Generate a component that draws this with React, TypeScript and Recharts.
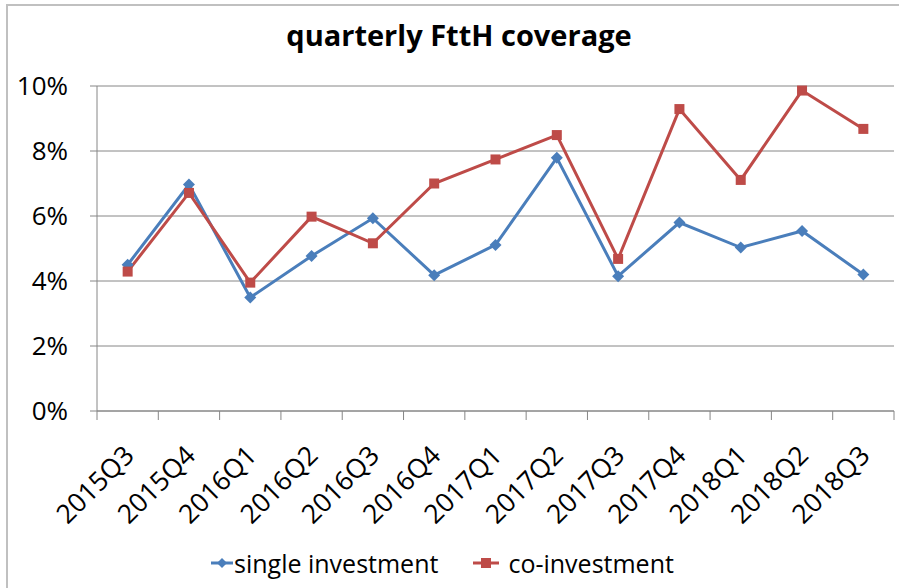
import React from "react";
import {
  LineChart,
  Line,
  XAxis,
  YAxis,
  CartesianGrid,
  Legend,
} from "recharts";

const quarters = [
  "2015Q3",
  "2015Q4",
  "2016Q1",
  "2016Q2",
  "2016Q3",
  "2016Q4",
  "2017Q1",
  "2017Q2",
  "2017Q3",
  "2017Q4",
  "2018Q1",
  "2018Q2",
  "2018Q3",
];

const singleInvestment = [4.5, 6.97, 3.49, 4.77, 5.93, 4.18, 5.11, 7.79, 4.15, 5.8, 5.03, 5.54, 4.2];
const coInvestment = [4.29, 6.71, 3.95, 5.98, 5.16, 7.0, 7.74, 8.49, 4.68, 9.29, 7.11, 9.86, 8.68];

const yTicks = [0, 2, 4, 6, 8, 10];

const BLUE = "#4a7ebb";
const RED = "#be4b48";
const GRID = "#868686";
const FONT = "'Open Sans', sans-serif";

const data = quarters.map((q, i) => ({
  idx: i,
  quarter: q,
  single: singleInvestment[i],
  co: coInvestment[i],
}));

// ticks at category edges (tick marks) and centres (labels)
const xTicks: number[] = [];
for (let i = 0; i <= quarters.length * 2; i++) xTicks.push(i / 2 - 0.5);

function XTick(props: any) {
  const { x, y, payload } = props;
  const v = payload.value;
  if (!Number.isInteger(v)) {
    return <line x1={x} y1={y} x2={x} y2={y + 9} stroke={GRID} strokeWidth={1} />;
  }
  return (
    <g transform={`translate(${x + 8},${y + 46}) rotate(-45)`}>
      <text textAnchor="end" fontSize={26.5} fontFamily={FONT} fill="#000">
        {quarters[v]}
      </text>
    </g>
  );
}

function DiamondDot(props: any) {
  const { cx, cy } = props;
  if (cx == null || cy == null) return null;
  const r = 6;
  return (
    <polygon
      points={`${cx},${cy - r} ${cx + r},${cy} ${cx},${cy + r} ${cx - r},${cy}`}
      fill={BLUE}
    />
  );
}

function SquareDot(props: any) {
  const { cx, cy } = props;
  if (cx == null || cy == null) return null;
  return <rect x={cx - 5} y={cy - 5} width={10} height={10} fill={RED} />;
}

function LegendContent() {
  return (
    <div
      style={{
        display: "flex",
        alignItems: "center",
        height: 50,
        paddingLeft: 211,
        fontFamily: FONT,
        fontSize: 25,
        color: "#000",
      }}
    >
      <svg width={22} height={14} style={{ marginRight: 1 }}>
        <line x1={0} y1={7} x2={22} y2={7} stroke={BLUE} strokeWidth={3} />
        <polygon points="11,2 16,7 11,12 6,7" fill={BLUE} />
      </svg>
      <span>single investment</span>
      <svg width={26} height={14} style={{ marginLeft: 35, marginRight: 9 }}>
        <line x1={0} y1={7} x2={26} y2={7} stroke={RED} strokeWidth={3} />
        <rect x={8} y={2} width={10} height={10} fill={RED} />
      </svg>
      <span>co-investment</span>
    </div>
  );
}

export default function App() {
  return (
    <div
      style={{
        position: "absolute",
        left: 0,
        top: 0,
        width: 899,
        height: 588,
        overflow: "hidden",
        background: "#fff",
      }}
    >
      <div
        style={{
          position: "absolute",
          left: 6,
          top: 4,
          width: 893,
          height: 584,
          boxSizing: "border-box",
          borderTop: "2px solid #c0c0c0",
          borderLeft: "2px solid #c0c0c0",
        }}
      />
      <div
        style={{
          position: "absolute",
          left: 20,
          top: 20,
          width: 878,
          textAlign: "center",
          fontFamily: FONT,
          fontWeight: 700,
          fontSize: 29,
          lineHeight: "29px",
          color: "#000",
        }}
      >
        quarterly FttH coverage
      </div>
      <div style={{ position: "absolute", left: 0, top: 0 }}>
        <LineChart
          width={899}
          height={588}
          data={data}
          margin={{ top: 86, right: 5, bottom: 0, left: 0 }}
        >
          <CartesianGrid vertical={false} stroke={GRID} />
          <XAxis
            dataKey="idx"
            type="number"
            domain={[-0.5, 12.5]}
            ticks={xTicks}
            interval={0}
            tickLine={false}
            tickSize={0}
            tickMargin={0}
            tick={<XTick />}
            axisLine={{ stroke: GRID }}
            height={127}
          />
          <YAxis
            domain={[0, 10]}
            ticks={yTicks}
            width={97}
            tickFormatter={(v) => `${v}%`}
            tick={{ fontSize: 26, fontFamily: FONT, fill: "#000" }}
            tickSize={7}
            tickMargin={22}
            tickLine={{ stroke: GRID }}
            axisLine={{ stroke: GRID }}
          />
          <Legend verticalAlign="bottom" height={50} content={<LegendContent />} />
          <Line
            dataKey="single"
            name="single investment"
            stroke={BLUE}
            strokeWidth={3}
            dot={<DiamondDot />}
            activeDot={false}
            isAnimationActive={false}
          />
          <Line
            dataKey="co"
            name="co-investment"
            stroke={RED}
            strokeWidth={3}
            dot={<SquareDot />}
            activeDot={false}
            isAnimationActive={false}
          />
        </LineChart>
      </div>
    </div>
  );
}
